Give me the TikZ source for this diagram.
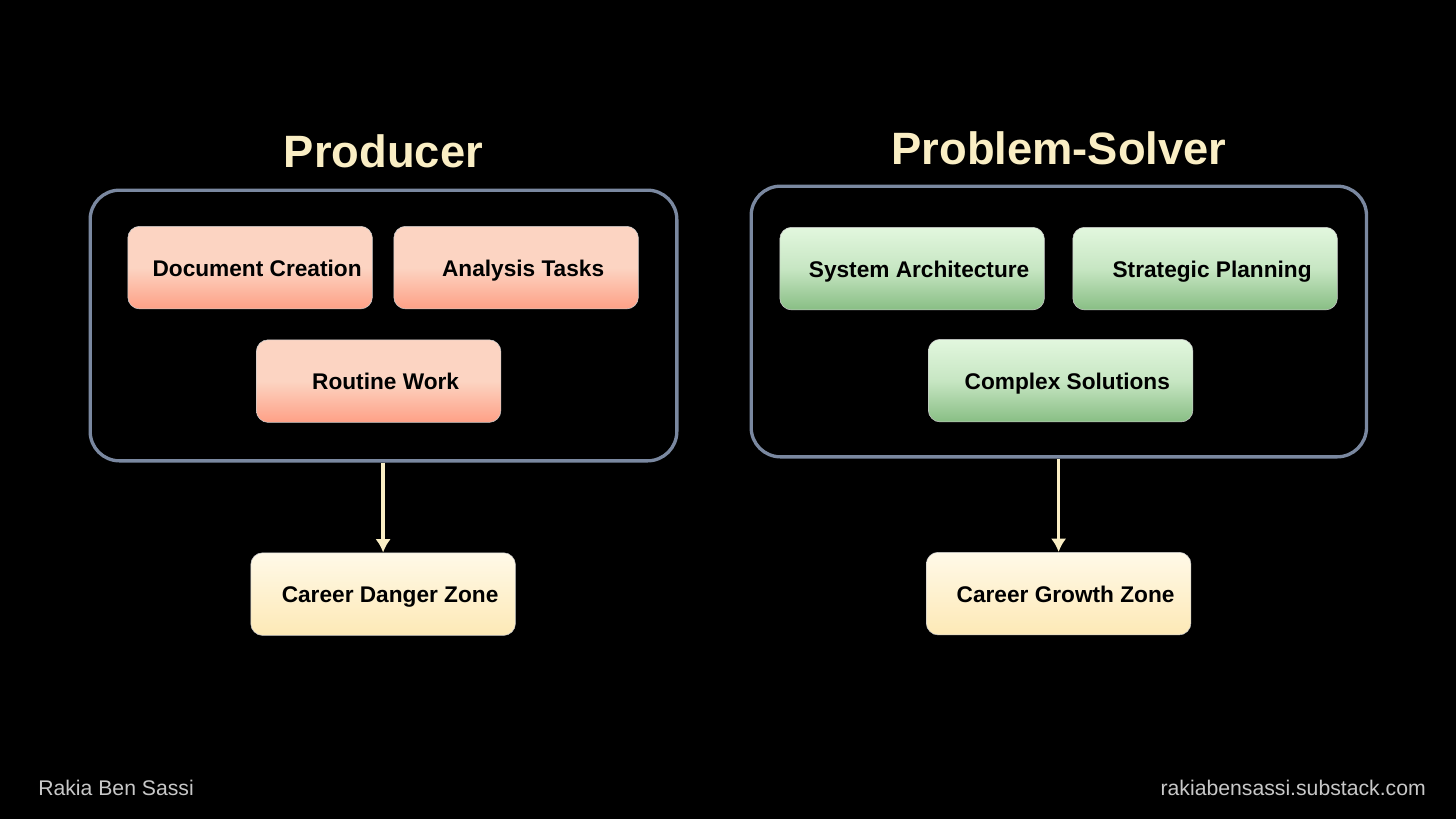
\documentclass[tikz,border=0pt]{standalone}
\usepackage{fontspec}
\setmainfont{Liberation Sans}
\usepackage{xcolor}
\usetikzlibrary{arrows.meta,positioning,calc}
\definecolor{Cream}{RGB}{250,238,196}
\definecolor{FrameBlue}{RGB}{122,136,160}
\definecolor{SalmonTop}{RGB}{252,212,194}
\definecolor{SalmonLow}{RGB}{254,160,134}
\definecolor{GreenTop}{RGB}{226,247,222}
\definecolor{GreenLow}{RGB}{136,190,132}
\definecolor{CreamTop}{RGB}{255,249,232}
\definecolor{CreamLow}{RGB}{253,233,182}
\definecolor{Foot}{RGB}{200,200,200}
\tikzset{
  px/.style={x=0.75pt,y=-0.75pt},
  frame/.style={draw=FrameBlue,line width=2.5pt,rounded corners=22pt,anchor=north west,inner sep=0pt},
  box/.style={draw=white!80!black,line width=0.4pt,rounded corners=9pt,anchor=north west,inner sep=0pt,
    minimum height=62pt,text height=14pt,text depth=0.9pt,font=\fontsize{17}{20}\bfseries,text=black},
  off/.style={execute at begin node={\hspace*{#1}}},
  bad/.style={box,minimum width=183.5pt,top color=SalmonTop,bottom color=SalmonLow,middle color=SalmonTop},
  good/.style={box,minimum width=198.5pt,top color=GreenTop,bottom color=GreenLow,middle color=GreenTop!70!GreenLow},
  zone/.style={box,minimum width=198.5pt,top color=CreamTop,bottom color=CreamLow},
  head/.style={font=\fontsize{34}{40}\bfseries,text=Cream,inner sep=0pt},
  foot/.style={font=\fontsize{15.9}{18}\selectfont,text=Foot,inner sep=0pt},
  arr/.style={-{Latex[length=10pt,width=11.5pt]},draw=Cream,line width=2.6pt},
}
\begin{document}
\begin{tikzpicture}[px]
  \fill[black] (0,0) rectangle (1456,819);
  \useasboundingbox (0,0) rectangle (1456,819);

  % --- producer ---
  \node[head] (prodT) at (383.5,151) {Producer};
  \node[frame,minimum width=440pt,minimum height=203pt] (prod) at (88.5,188.5) {};
  \node[bad,off=10.5pt] (doc) at (127.5,226) {Document Creation};
  \node[bad,off=10.5pt] (ana) at (393.5,226) {Analysis Tasks};
  \node[bad,off=10.5pt] (rout) at (256,339.5) {Routine Work};
  \node[zone,off=10.5pt] (danger) at (250.5,552.5) {Career Danger Zone};
  \draw[arr] (danger.north |- prod.south) -- (danger.north);

  % --- problem solver ---
  \node[head] (solvT) at (1059,148) {Problem-Solver};
  \node[frame,minimum width=461.5pt,minimum height=203pt] (solv) at (749.5,184.5) {};
  \node[good,off=10.5pt] (sys) at (779.5,227) {System Architecture};
  \node[good,off=10.5pt] (plan) at (1072.5,227) {Strategic Planning};
  \node[good,off=10pt] (cplx) at (928,339) {Complex Solutions};
  \node[zone,off=10.5pt] (grow) at (926,552) {Career Growth Zone};
  \draw[arr] (grow.north |- solv.south) -- (grow.north);

  % footer
  \node[foot,anchor=west] (name) at (38,788) {Rakia Ben Sassi};
  \node[foot,anchor=east] (site) at (1426,788) {rakiabensassi.substack.com};
\end{tikzpicture}
\end{document}
